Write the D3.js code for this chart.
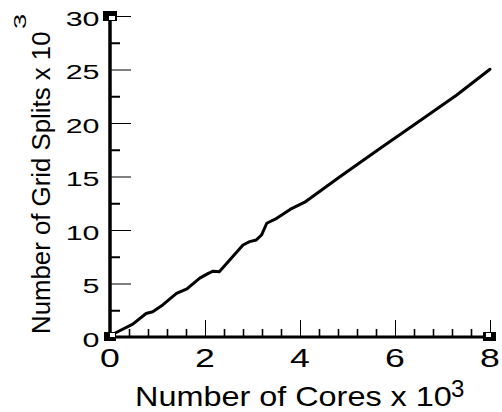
<!DOCTYPE html>
<html><head><meta charset="utf-8">
<script src="https://cdn.jsdelivr.net/npm/d3@7"></script>
<style>html,body{margin:0;padding:0;background:#fff;overflow:hidden}</style>
</head><body><svg id="c" width="502" height="412"></svg>
<script>
// Number of cores (x 10^3)
const cores = [0, 0.1, 0.48, 0.76, 0.9, 1.11, 1.4, 1.62, 1.89, 2.07, 2.17, 2.3, 2.52, 2.8, 2.94, 3.08, 3.19, 3.3, 3.51, 3.8, 4.1, 4.84, 5.69, 6.6, 7.3, 8.0];
// Number of grid splits (x 10^3)
const splits = [0, 0.35, 1.2, 2.2, 2.36, 3.0, 4.08, 4.5, 5.5, 5.95, 6.15, 6.1, 7.2, 8.6, 8.91, 9.07, 9.53, 10.63, 11.09, 11.95, 12.6, 14.98, 17.64, 20.44, 22.62, 25.02];
const xTicks = [0, 2, 4, 6, 8];
const xMinorTicks = [0.4, 0.8, 1.2, 1.6, 2.4, 2.8, 3.2, 3.6, 4.4, 4.8, 5.2, 5.6, 6.4, 6.8, 7.2, 7.6];
const yTicks = [0, 5, 10, 15, 20, 25, 30];
const yMinorTicks = [2.5, 7.5, 12.5, 17.5, 22.5, 27.5];
const xTitle = "Number of Cores x 10";
const yTitle = "Number of Grid Splits x 10";
const expLabel = "3";

const svg = d3.select("#c");
const FONT = "'Liberation Sans', Arial, Helvetica, sans-serif";
const x = d3.scaleLinear().domain([0, 8]).range([110, 490]);
const y = d3.scaleLinear().domain([0, 30]).range([337, 16]);

// minor ticks
svg.append("g").attr("transform", `translate(0,${y(0)})`)
  .call(d3.axisBottom(x).tickValues(xMinorTicks).tickSize(-8).tickFormat(""))
  .call(g => { g.select(".domain").remove(); g.selectAll("line").attr("stroke", "#000").attr("stroke-width", 1.6); });
svg.append("g").attr("transform", `translate(${x(0)},0)`)
  .call(d3.axisLeft(y).tickValues(yMinorTicks).tickSize(-10).tickFormat(""))
  .call(g => { g.select(".domain").remove(); g.selectAll("line").attr("stroke", "#000").attr("stroke-width", 2); });

// major ticks
svg.append("g").attr("transform", `translate(0,${y(0)})`)
  .call(d3.axisBottom(x).tickValues(xTicks).tickSize(-17).tickFormat(""))
  .call(g => { g.select(".domain").remove(); g.selectAll("line").attr("stroke", "#000").attr("stroke-width", 1); });
svg.append("g").attr("transform", `translate(${x(0)},0)`)
  .call(d3.axisLeft(y).tickValues(yTicks).tickSize(-21).tickFormat(""))
  .call(g => { g.select(".domain").remove(); g.selectAll("line").attr("stroke", "#000").attr("stroke-width", 1); });

// axis lines
svg.append("line").attr("x1", x(0)).attr("x2", x(0)).attr("y1", y(30)).attr("y2", y(0))
  .attr("stroke", "#000").attr("stroke-width", 3.5);
svg.append("line").attr("x1", x(0)).attr("x2", x(8)).attr("y1", y(0)).attr("y2", y(0))
  .attr("stroke", "#000").attr("stroke-width", 3);

// tick labels
svg.append("g").selectAll("text").data(xTicks).join("text")
  .attr("transform", d => `translate(${x(d)},367) scale(1.37,1)`)
  .attr("text-anchor", "middle").attr("font-family", FONT).attr("font-size", 26).attr("fill", "#000")
  .text(d => d);
svg.append("g").selectAll("text").data(yTicks).join("text")
  .attr("transform", d => `translate(99.5,${y(d) + 9.5}) scale(1.45,1)`)
  .attr("text-anchor", "end").attr("font-family", FONT).attr("font-size", 21).attr("fill", "#000")
  .text(d => d);

// line
const line = d3.line().x((d, i) => x(cores[i])).y(d => y(d));
svg.append("path").datum(splits).attr("d", line)
  .attr("fill", "none").attr("stroke", "#000").attr("stroke-width", 3)
  .attr("stroke-linejoin", "round").attr("stroke-linecap", "round");

// corner markers (black box with small white inset)
function marker(bx, by, bw, bh, wx, wy, ww, wh) {
  svg.append("rect").attr("x", bx).attr("y", by).attr("width", bw).attr("height", bh).attr("fill", "#000");
  svg.append("rect").attr("x", bx + wx).attr("y", by + wy).attr("width", ww).attr("height", wh).attr("fill", "#fff");
}
marker(x(0) - 7, y(30) - 5, 14, 10, 6, 5, 6, 4);
marker(x(0) - 6, y(0) - 5, 12, 9, 6, 1, 5, 4);
marker(x(8) - 7, y(0) - 5, 13, 9, 3, 1, 5, 4);

// titles
svg.append("text").attr("transform", "translate(135,406) scale(1.2,1)")
  .attr("font-family", FONT).attr("font-size", 27).attr("fill", "#000").text(xTitle);
svg.append("text").attr("transform", "translate(451,397)")
  .attr("font-family", FONT).attr("font-size", 24).attr("fill", "#000").text(expLabel);
svg.append("text").attr("transform", "translate(50,334) rotate(-90)")
  .attr("font-family", FONT).attr("font-size", 25.8).attr("fill", "#000").text(yTitle);
svg.append("text").attr("transform", "translate(26,29) rotate(-90) scale(1.6,1)")
  .attr("font-family", FONT).attr("font-size", 17).attr("fill", "#000").text(expLabel);
</script></body></html>
